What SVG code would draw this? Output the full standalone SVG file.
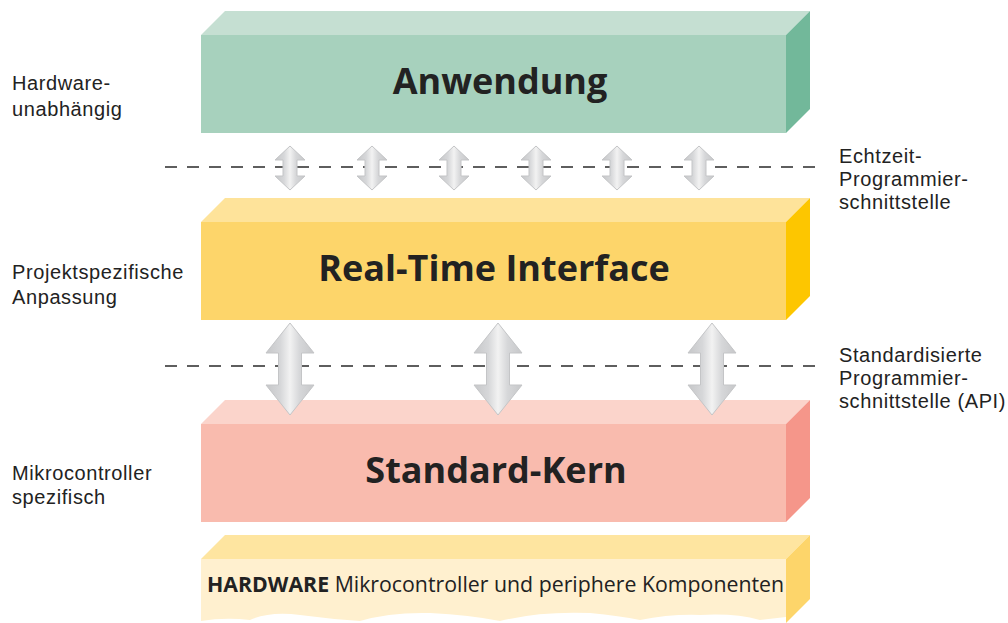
<svg xmlns="http://www.w3.org/2000/svg" width="1008" height="623" viewBox="0 0 1008 623">
  <style>
    .label { font-family: "Liberation Sans", Arial, sans-serif; font-size: 20px; letter-spacing: 0.6px; fill: #222; }
    .title { font-family: "Open Sans", "Noto Sans", "DejaVu Sans", sans-serif; font-size: 36px; font-weight: bold; fill: #222; text-anchor: middle; }
    .hw { font-family: "Open Sans", "Noto Sans", "DejaVu Sans", sans-serif; font-size: 21.3px; fill: #222; }
    .dash { stroke: #2a2a2a; stroke-width: 1.3; stroke-dasharray: 12 10; fill: none; }
    .arrow { fill: url(#arrowGrad); stroke: #c4c5c7; stroke-width: 1; }
  </style>
  <defs>
    <linearGradient id="arrowGrad" x1="0" y1="0" x2="1" y2="0">
      <stop offset="0" stop-color="#c6c7c9"/>
      <stop offset="0.3" stop-color="#d6d7d9"/>
      <stop offset="0.5" stop-color="#f2f2f2"/>
      <stop offset="0.7" stop-color="#d6d7d9"/>
      <stop offset="1" stop-color="#c6c7c9"/>
    </linearGradient>
  </defs>

  <rect width="1008" height="623" fill="#ffffff"/>

  <!-- Side labels -->
  <g id="labels-left">
    <text class="label" x="12" y="90">Hardware-</text>
    <text class="label" x="12" y="116">unabhängig</text>
    <text class="label" x="12" y="279">Projektspezifische</text>
    <text class="label" x="12" y="304">Anpassung</text>
    <text class="label" x="12" y="480">Mikrocontroller</text>
    <text class="label" x="12" y="504">spezifisch</text>
  </g>
  <g id="labels-right">
    <text class="label" x="839" y="163">Echtzeit-</text>
    <text class="label" x="839" y="186">Programmier-</text>
    <text class="label" x="839" y="209">schnittstelle</text>
    <text class="label" x="839" y="362">Standardisierte</text>
    <text class="label" x="839" y="385">Programmier-</text>
    <text class="label" x="839" y="408">schnittstelle (API)</text>
  </g>

  <!-- Layer: Anwendung -->
  <g id="anwendung">
    <polygon points="201,35 225,11 810,11 786,35" fill="#c5dfd2"/>
    <polygon points="786,35 810,11 810,109 786,133" fill="#72b89a"/>
    <rect x="201" y="35" width="585" height="98" fill="#a7d1bd"/>
    <text class="title" x="500" y="94">Anwendung</text>
  </g>

  <!-- Layer: Real-Time Interface -->
  <g id="rti">
    <polygon points="201,222 225,198 810,198 786,222" fill="#fee39a"/>
    <polygon points="786,222 810,198 810,296 786,320" fill="#fdc600"/>
    <rect x="201" y="222" width="585" height="98" fill="#fdd56a"/>
    <text class="title" x="494" y="281">Real-Time Interface</text>
  </g>

  <!-- Layer: Standard-Kern -->
  <g id="kern">
    <polygon points="201,424 225,400 810,400 786,424" fill="#fbd4cb"/>
    <polygon points="786,424 810,400 810,498 786,522" fill="#f5968a"/>
    <rect x="201" y="424" width="585" height="98" fill="#f9bbae"/>
    <text class="title" x="496" y="483">Standard-Kern</text>
  </g>

  <!-- Layer: Hardware -->
  <g id="hardware">
    <polygon points="201,559 225,535 810,535 786,559" fill="#fee5a0"/>
    <polygon points="786,559 810,535 810,599 786,623" fill="#fdd56a"/>
    <rect x="201" y="559" width="585" height="64" fill="#fff0cf"/>
    <!-- torn lower edge -->
    <path d="M201,623 L201,621 Q225,617 250,620 Q270,611 300,615 Q330,619 360,621 Q390,612 430,613 Q470,615 500,621 Q540,611 590,613 Q620,616 640,620 Q670,614 700,615 Q735,613 760,620 L786,617 L786,623 Z" fill="#ffffff"/>
    <text class="hw" x="207" y="592"><tspan font-weight="bold">HARDWARE</tspan> Mikrocontroller und periphere Komponenten</text>
  </g>

  <!-- Interface boundaries and data paths -->
  <g id="connectors">
    <line class="dash" x1="165" y1="167" x2="822" y2="167"/>
    <line class="dash" x1="165" y1="366" x2="822" y2="366"/>

    <!-- small double arrows: application to real-time interface -->
    <g transform="translate(290,0)">
      <path class="arrow" d="M0,146 L15,160 L7,160 L7,176 L15,176 L0,190 L-15,176 L-7,176 L-7,160 L-15,160 Z"/>
    </g>
    <g transform="translate(372,0)">
      <path class="arrow" d="M0,146 L15,160 L7,160 L7,176 L15,176 L0,190 L-15,176 L-7,176 L-7,160 L-15,160 Z"/>
    </g>
    <g transform="translate(454,0)">
      <path class="arrow" d="M0,146 L15,160 L7,160 L7,176 L15,176 L0,190 L-15,176 L-7,176 L-7,160 L-15,160 Z"/>
    </g>
    <g transform="translate(536,0)">
      <path class="arrow" d="M0,146 L15,160 L7,160 L7,176 L15,176 L0,190 L-15,176 L-7,176 L-7,160 L-15,160 Z"/>
    </g>
    <g transform="translate(617,0)">
      <path class="arrow" d="M0,146 L15,160 L7,160 L7,176 L15,176 L0,190 L-15,176 L-7,176 L-7,160 L-15,160 Z"/>
    </g>
    <g transform="translate(699,0)">
      <path class="arrow" d="M0,146 L15,160 L7,160 L7,176 L15,176 L0,190 L-15,176 L-7,176 L-7,160 L-15,160 Z"/>
    </g>

    <!-- large double arrows: real-time interface to standard core -->
    <g transform="translate(290,0)">
      <path class="arrow" d="M0,323 L24,353 L11.5,353 L11.5,385 L24,385 L0,415 L-24,385 L-11.5,385 L-11.5,353 L-24,353 Z"/>
    </g>
    <g transform="translate(498,0)">
      <path class="arrow" d="M0,323 L24,353 L11.5,353 L11.5,385 L24,385 L0,415 L-24,385 L-11.5,385 L-11.5,353 L-24,353 Z"/>
    </g>
    <g transform="translate(712,0)">
      <path class="arrow" d="M0,323 L24,353 L11.5,353 L11.5,385 L24,385 L0,415 L-24,385 L-11.5,385 L-11.5,353 L-24,353 Z"/>
    </g>
  </g>
</svg>
